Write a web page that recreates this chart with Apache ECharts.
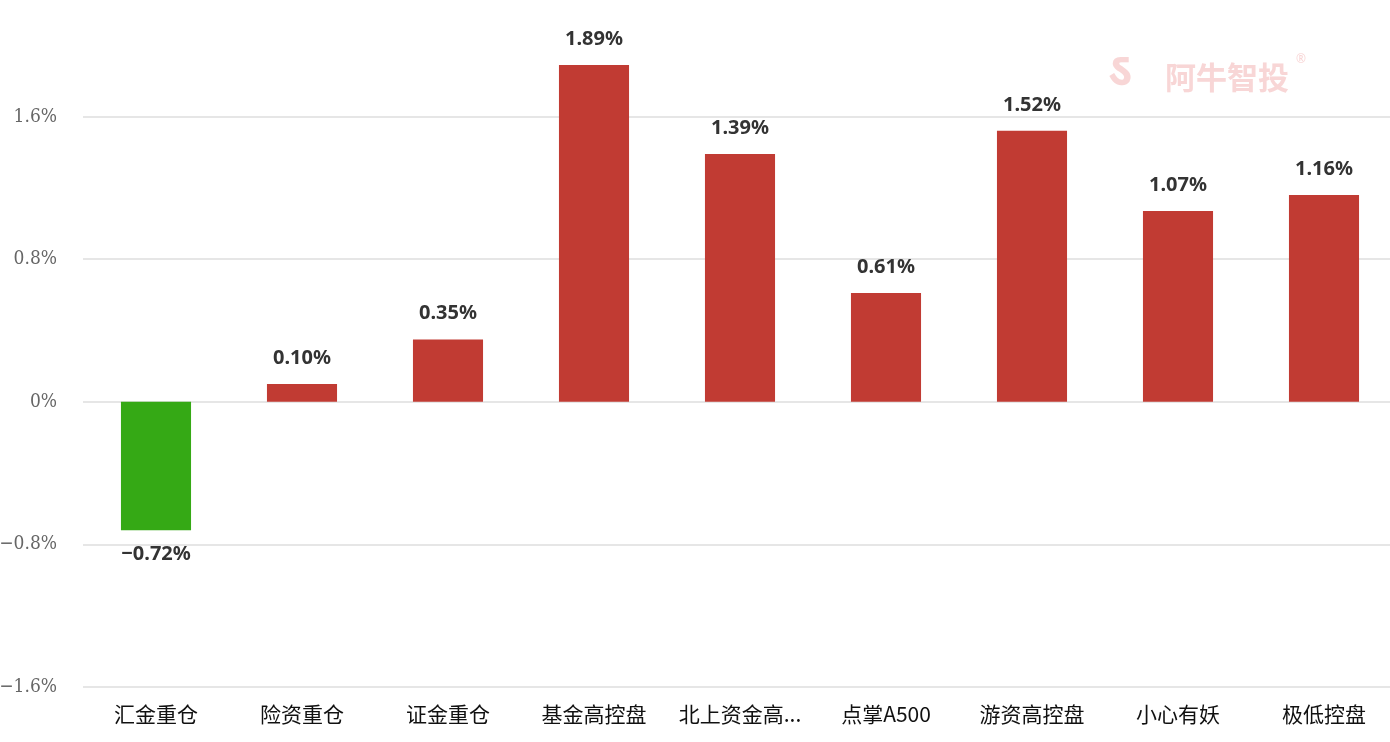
<!DOCTYPE html>
<html>
<head>
<meta charset="utf-8">
<style>
html,body{margin:0;padding:0;background:#fff;overflow:hidden;width:1390px;height:742px;position:relative;}
#chart{position:absolute;left:0;top:-26px;width:1397px;height:768px;}
</style>
<script src="https://cdn.jsdelivr.net/npm/echarts@6/dist/echarts.min.js"></script>
</head>
<body>
<div id="chart"></div>
<script>
const categories = ['汇金重仓','险资重仓','证金重仓','基金高控盘','北上资金高控盘','点掌A500','游资高控盘','小心有妖','极低控盘'];
const values = [-0.72, 0.10, 0.35, 1.89, 1.39, 0.61, 1.52, 1.07, 1.16];
const yTicks = {min: -1.6, max: 2.4, interval: 0.8};

function fmtNum(s) { return s.replace('-', '−'); }

const chart = echarts.init(document.getElementById('chart'), null, {renderer: 'canvas'});
chart.setOption({
  animation: false,
  grid: {left: 83, right: 0, top: 0, bottom: 55, containLabel: false, outerBoundsMode: 'none'},
  xAxis: {
    type: 'category',
    data: categories,
    axisLine: {show: false},
    axisTick: {show: false},
    axisLabel: {
      color: '#111',
      fontSize: 21,
      fontFamily: 'Noto Sans CJK SC',
      margin: 17,
      width: 130,
      overflow: 'truncate',
      interval: 0
    }
  },
  yAxis: {
    type: 'value',
    min: yTicks.min,
    max: yTicks.max,
    interval: yTicks.interval,
    axisLine: {show: false},
    axisTick: {show: false},
    splitLine: {lineStyle: {color: '#e6e6e6', width: 2}},
    axisLabel: {
      color: '#666',
      fontSize: 19,
      fontFamily: 'DejaVu Serif Condensed, Liberation Serif, serif',
      margin: 26,
      formatter: function (v) { return fmtNum(String(Math.round(v * 10) / 10)) + '%'; }
    }
  },
  series: [{
    type: 'bar',
    barWidth: '48%',
    data: values.map(v => ({
      value: v,
      itemStyle: {color: v < 0 ? '#35a915' : '#c13b33'},
      label: {position: v < 0 ? 'bottom' : 'top', distance: v < 0 ? 14 : 16}
    })),
    label: {
      show: true,
      color: '#333',
      fontSize: 20,
      fontWeight: 'bold',
      fontFamily: 'Noto Sans',
      formatter: function (p) { return fmtNum(p.value.toFixed(2)) + '%'; }
    }
  }],
  graphic: [
    {
      type: 'text',
      left: 1165,
      top: 26 + 62,
      style: {text: '阿牛智投', fill: '#f8d6d6', font: 'bold 31px "Noto Sans CJK SC"'}
    },
    {
      type: 'text',
      left: 1296,
      top: 26 + 54,
      style: {text: '®', fill: '#f8d6d6', font: '12px "Noto Sans"'}
    },
    {
      type: 'text',
      left: 1108,
      top: 26 + 50,
      style: {text: 'ऽ', fill: '#f8d6d6', font: 'bold 46px "Noto Sans"'}
    }
  ]
});
</script>
</body>
</html>
